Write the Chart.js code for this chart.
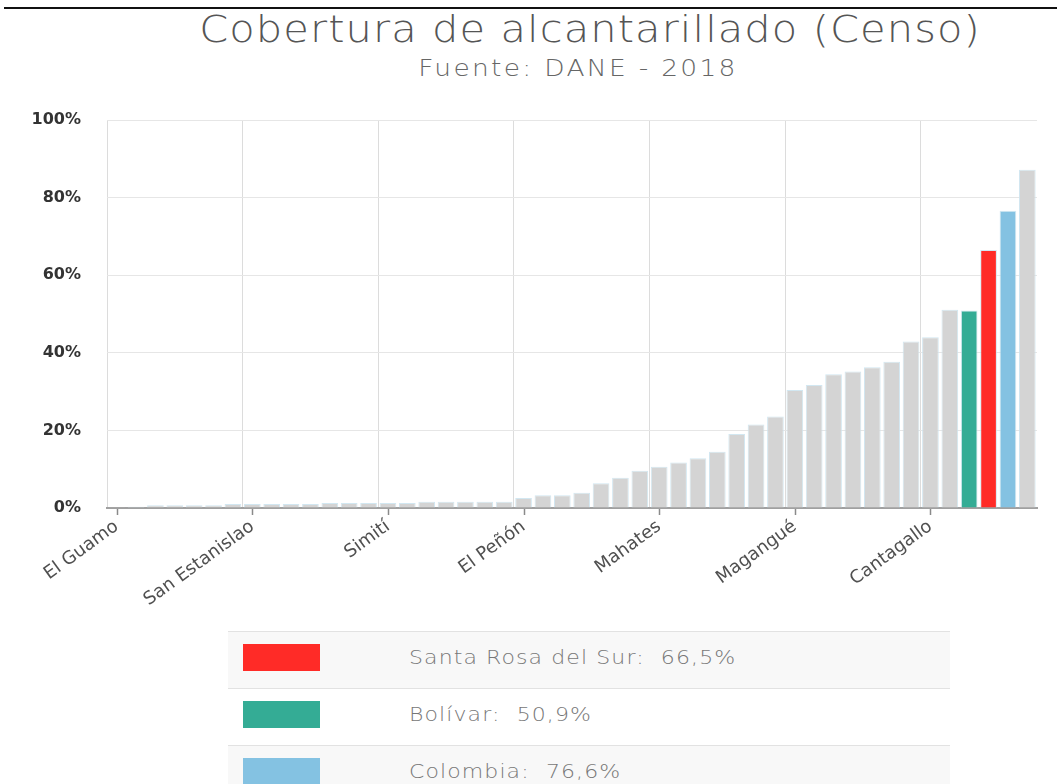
<!DOCTYPE html>
<html>
<head>
<meta charset="utf-8">
<script src="https://cdn.jsdelivr.net/npm/chart.js@4.4.0/dist/chart.umd.min.js"></script>
<style>
  body { margin:0; background:#fff; width:1057px; height:784px; overflow:hidden; position:relative; font-family: "DejaVu Sans", Lato, sans-serif; }
  .topline { position:absolute; left:4px; right:0; top:7px; border-top:2px solid #111; }
  .title { position:absolute; top:7px; left:0; width:1180px; text-align:center; font-size:38px; font-weight:200; color:#555; letter-spacing:1px; transform:scaleX(1.094); }
  .subtitle { position:absolute; top:55px; left:0; width:1156px; text-align:center; font-size:23px; font-weight:200; color:#666; letter-spacing:2px; transform:scaleX(1.15); }
  #wrap { position:absolute; left:0; top:100px; width:1057px; height:520px; }
  #legend { position:absolute; left:228px; top:631px; width:722px; }
  .row { height:56px; border-top:1px solid #e2e2e2; position:relative; }
  .row:nth-child(odd) { background:#f8f8f8; }
  .sw { position:absolute; left:15px; top:12px; width:77px; height:27px; }
  .lbl { position:absolute; left:181px; top:13px; font-size:20px; font-weight:200; color:#777; letter-spacing:1px; white-space:pre; transform:scaleX(1.1); transform-origin:left center; }
</style>
</head>
<body>
<div class="topline"></div>
<div class="title">Cobertura de alcantarillado (Censo)</div>
<div class="subtitle">Fuente: DANE - 2018</div>
<div id="wrap"><canvas id="chart"></canvas></div>
<div id="legend"></div>
<script>
const municipios = [
  'El Guamo', 'Achí', 'Tiquisio', 'Norosí', 'Arenal', 'Montecristo', 'Altos del Rosario',
  'San Estanislao', 'Regidor', 'Río Viejo', 'Pinillos', 'Barranco de Loba', 'Hatillo de Loba', 'San Jacinto del Cauca',
  'Simití', 'Morales', 'San Martín de Loba', 'Soplaviento', 'Córdoba', 'Zambrano', 'Margarita',
  'El Peñón', 'San Fernando', 'Arroyohondo', 'Clemencia', 'Santa Catalina', 'Villanueva', 'Calamar',
  'Mahates', 'Talaigua Nuevo', 'Cicuco', 'Santa Rosa', 'Turbaná', 'María La Baja', 'San Cristóbal',
  'Magangué', 'San Pablo', 'San Jacinto', 'Arjona', 'El Carmen de Bolívar', 'San Juan Nepomuceno', 'Mompós',
  'Cantagallo', 'Turbaco', 'Bolívar', 'Santa Rosa del Sur', 'Colombia', 'Cartagena'
];
const cobertura = [
  0.2, 0.3, 0.7, 0.7, 0.7, 0.7, 1.0,
  1.0, 1.0, 1.0, 1.0, 1.3, 1.3, 1.3,
  1.3, 1.3, 1.6, 1.6, 1.6, 1.6, 1.6,
  2.6, 3.3, 3.3, 3.9, 6.4, 7.8, 9.6,
  10.6, 11.7, 12.8, 14.5, 19.1, 21.5, 23.6,
  30.4, 31.7, 34.5, 35.2, 36.3, 37.7, 42.9,
  44.0, 51.1, 50.9, 66.5, 76.6, 87.2
];
const shownLabels = ['El Guamo', 'San Estanislao', 'Simití', 'El Peñón', 'Mahates', 'Magangué', 'Cantagallo'];
const yTicks = [0, 20, 40, 60, 80, 100];
const destacados = ['Santa Rosa del Sur', 'Bolívar', 'Colombia'];
const destacadosColor = ['#ff2b27', '#34ac95', '#84c2e2'];
const defaultColor = '#d4d4d4';

const barColors = municipios.map(m => {
  const i = destacados.indexOf(m);
  return i >= 0 ? destacadosColor[i] : defaultColor;
});

// tick marks at bar centres for the labelled categories
const tickMarks = {
  id: 'tickMarks',
  afterDraw(chart) {
    const x = chart.scales.x, ctx = chart.ctx;
    ctx.save();
    ctx.strokeStyle = '#8a8a8a';
    ctx.lineWidth = 1.5;
    municipios.forEach((m, i) => {
      if (!shownLabels.includes(m)) return;
      const px = Math.round(x.getPixelForValue(i)) + 0.5;
      ctx.beginPath();
      ctx.moveTo(px, x.top + 1);
      ctx.lineTo(px, x.top + 7);
      ctx.stroke();
    });
    ctx.restore();
  }
};

new Chart(document.getElementById('chart'), {
  type: 'bar',
  data: {
    labels: municipios,
    datasets: [{
      data: cobertura,
      backgroundColor: barColors,
      borderColor: 'rgba(205,228,240,0.9)',
      borderWidth: 1,
      barPercentage: 0.86,
      categoryPercentage: 1
    }]
  },
  options: {
    responsive: true,
    maintainAspectRatio: false,
    animation: false,
    layout: { padding: { top: 20, right: 20, left: 0, bottom: 0 } },
    plugins: { legend: { display: false }, tooltip: { enabled: false } },
    scales: {
      x: {
        afterFit: s => { s.height = 112; },
        grid: {
          offset: true,
          drawTicks: false,
          color: ctx => (ctx.index % 7 === 0 && ctx.index < municipios.length) ? '#dcdcdc' : 'rgba(0,0,0,0)'
        },
        border: { color: '#a0a0a0', width: 2 },
        ticks: {
          autoSkip: false,
          maxRotation: 36,
          minRotation: 36,
          padding: 8,
          color: '#505050',
          font: { family: 'DejaVu Sans', size: 18 },
          callback: (v, i) => shownLabels.includes(municipios[i]) ? municipios[i] : ''
        }
      },
      y: {
        min: 0,
        max: 100,
        afterFit: s => { s.width = 107; s.paddingTop = 0; s.paddingBottom = 0; },
        afterBuildTicks: s => { s.ticks = yTicks.map(v => ({ value: v })); },
        grid: { color: '#e6e6e6', drawTicks: false },
        border: { display: false },
        ticks: {
          padding: 26,
          color: '#333',
          font: { family: 'DejaVu Sans', size: 16, weight: 'bold' },
          callback: v => v + '%'
        }
      }
    }
  },
  plugins: [tickMarks]
});

const legendEl = document.getElementById('legend');
destacados.forEach((name, i) => {
  const v = cobertura[municipios.indexOf(name)];
  legendEl.innerHTML += `<div class="row"><div class="sw" style="background:${destacadosColor[i]}"></div>` +
    `<div class="lbl">${name}:  ${v.toFixed(1).replace('.', ',')}%</div></div>`;
});
</script>
</body>
</html>
